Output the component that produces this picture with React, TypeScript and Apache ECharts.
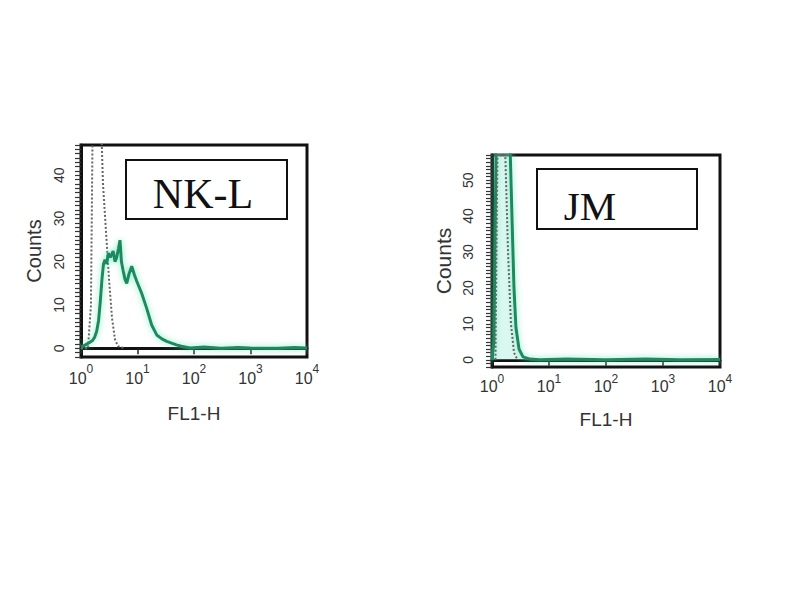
import React, { useEffect, useRef } from "react";
import * as echarts from "echarts";

// NK-L panel: stained (green) and control (dotted) histograms, [FL1-H, counts]
const nklStained: [number, number][] = [
  [1.0, 0.3], [1.2, 0.8], [1.44, 1.4], [1.6, 1.8], [1.75, 2.6], [1.9, 4], [2.05, 6.5],
  [2.2, 11], [2.35, 16], [2.5, 19.5], [2.66, 20.5], [2.85, 19.5], [3.04, 22], [3.3, 21],
  [3.7, 22.5], [4.0, 20], [4.27, 21], [4.6, 23], [4.9, 25], [5.2, 20], [5.56, 18],
  [6.0, 16], [6.45, 15], [7.0, 17], [7.9, 19], [8.8, 17], [9.7, 15.5], [11.8, 12.8],
  [14.5, 9.3], [17.8, 5.4], [21.9, 3.1], [27, 2.2], [33, 1.6], [40, 1.2], [49, 0.8],
  [60, 0.5], [85, 0.1], [150, 0.3], [300, 0], [600, 0.2], [1000, 0.1], [3000, 0],
  [6000, 0.2], [10000, 0.1],
];
const nklControl: [number, number][] = [
  [1.0, 0], [1.33, 0], [1.5, 10], [1.63, 60], [2.17, 60], [2.45, 38], [2.77, 27],
  [3.13, 16], [3.54, 7], [4.0, 2], [4.52, 0.5], [6.0, 0],
];
// JM panel
const jmStained: [number, number][] = [
  [1.0, 0], [1.08, 5], [1.18, 60], [2.07, 60], [2.24, 40], [2.43, 20], [2.63, 9],
  [2.98, 3], [3.5, 0.8], [4.64, 0.2], [6.9, 0], [20, 0.2], [100, 0], [500, 0.2],
  [2000, 0], [10000, 0.1],
];
const jmControl: [number, number][] = [
  [1.15, 0], [1.25, 60], [1.69, 60], [1.91, 30], [2.15, 10], [2.43, 2], [2.8, 0],
];

const yLabelStep = 10;
const xLabels = [1, 10, 100, 1000, 10000];

const panelTitles = ["NK-L", "JM"];

export default function App() {
  const ref = useRef<HTMLDivElement>(null);
  useEffect(() => {
    if (!ref.current) return;
    const chart = echarts.init(ref.current, undefined, { renderer: "svg" });

    const sans = "Liberation Sans, Arial, sans-serif";
    const mkX = (gridIndex: number, nameGap: number, supPad: number) => ({
      type: "log",
      logBase: 10,
      gridIndex,
      min: 1,
      max: 10000,
      name: "FL1-H",
      nameLocation: "middle",
      nameGap,
      nameTextStyle: { fontFamily: sans, fontSize: 19, color: "#333" },
      axisLine: { lineStyle: { color: "#111", width: 3 } },
      axisTick: { show: true, length: 6, lineStyle: { color: "#222", width: 1.5 } },
      axisLabel: {
        customValues: xLabels,
        margin: 6,
        formatter: (v: number) => `{b|10}{s|${Math.round(Math.log10(v))}}`,
        rich: {
          b: { fontFamily: sans, fontSize: 16, lineHeight: 16, color: "#333", padding: [supPad, 0, 0, 0] },
          s: { fontFamily: sans, fontSize: 12, lineHeight: 12, color: "#333", verticalAlign: "top" },
        },
      },
      splitLine: { show: false },
    });
    const mkY = (gridIndex: number, min: number, max: number, margin: number, nameGap: number, nameSize: number) => ({
      type: "value",
      gridIndex,
      min,
      max,
      interval: 1,
      name: "Counts",
      nameLocation: "middle",
      nameGap,
      nameTextStyle: { fontFamily: sans, fontSize: nameSize, color: "#333" },
      axisLine: { show: true, lineStyle: { color: "#111", width: 3 } },
      axisTick: { show: true, length: 6, lineStyle: { color: "#333", width: 1.2 } },
      axisLabel: {
        rotate: 90, margin, fontFamily: sans, fontSize: 14, color: "#333",
        formatter: (v: number) => (v >= 0 && v % yLabelStep === 0 ? String(v) : ""),
      },
      splitLine: { show: false },
    });

    const green = {
      color: "#1f8a5c",
      width: 3,
      shadowColor: "rgba(90,225,185,0.8)",
      shadowBlur: 6,
    };
    const dotted = { color: "#666", width: 2, type: "dotted" };

    chart.setOption({
      animation: false,
      backgroundColor: "#fff",
      grid: [
        { left: 81, top: 145, width: 226, height: 212, show: true, borderColor: "#111", borderWidth: 3 },
        { left: 492, top: 155, width: 228, height: 212, show: true, borderColor: "#111", borderWidth: 3 },
      ],
      xAxis: [mkX(0, 47, 14), mkX(1, 43, 10)],
      yAxis: [mkY(0, -2, 47, 15, 37, 20), mkY(1, -2, 57, 17, 38, 21)],
      series: [
        { type: "line", xAxisIndex: 0, yAxisIndex: 0, data: nklControl, showSymbol: false, lineStyle: dotted, z: 2 },
        { type: "line", xAxisIndex: 0, yAxisIndex: 0, data: nklStained, showSymbol: false, lineStyle: green, z: 3 },
        { type: "line", xAxisIndex: 1, yAxisIndex: 1, data: jmControl, showSymbol: false, lineStyle: dotted, z: 4 },
        {
          type: "line", xAxisIndex: 1, yAxisIndex: 1, data: jmStained, showSymbol: false, lineStyle: green, z: 3,
          areaStyle: { color: "rgba(160,238,215,0.55)" },
        },
      ],
      graphic: [
        { type: "rect", shape: { x: 126, y: 160, width: 161, height: 59 }, style: { fill: "#fff", stroke: "#111", lineWidth: 2 }, z: 10 },
        { type: "text", x: 203, y: 194, style: { text: panelTitles[0], font: "42px 'Liberation Serif', serif", fill: "#111", align: "center", verticalAlign: "middle" }, z: 11 },
        { type: "rect", shape: { x: 537, y: 169, width: 160, height: 60 }, style: { fill: "#fff", stroke: "#111", lineWidth: 2 }, z: 10 },
        { type: "text", x: 590, y: 206, style: { text: panelTitles[1], font: "41px 'Liberation Serif', serif", fill: "#111", align: "center", verticalAlign: "middle" }, z: 11 },
      ],
    });
    return () => chart.dispose();
  }, []);
  return <div ref={ref} style={{ width: 800, height: 600, position: "absolute", left: 0, top: 0 }} />;
}
